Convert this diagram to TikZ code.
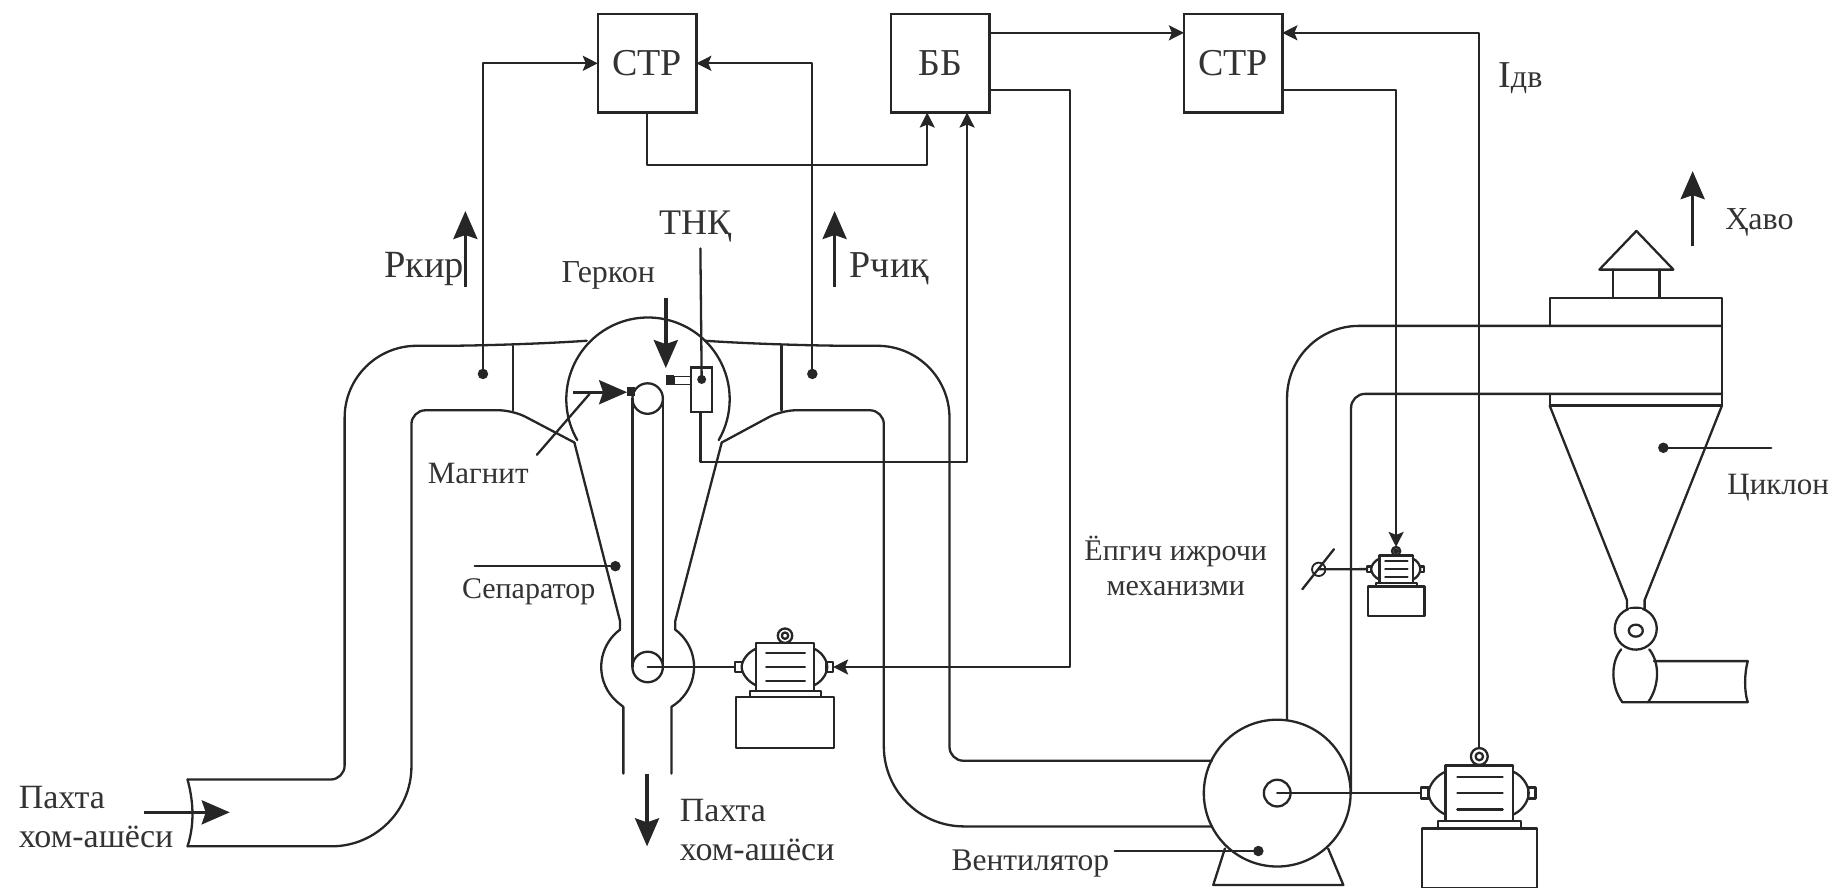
\documentclass[tikz,border=0pt]{standalone}
\usepackage{fontspec}
\setmainfont{Liberation Serif}
\usetikzlibrary{arrows.meta,calc}
\definecolor{ink}{HTML}{262626}
\definecolor{tx}{HTML}{333333}
\tikzset{
  wire/.style={draw=ink,line width=2.3pt,line cap=round,line join=round},
  conn/.style={wire,-{Stealth[length=15pt,width=15pt,inset=3pt]}},
  bigarrow/.style={draw=ink,line width=3.4pt,-{Stealth[length=28pt,width=24pt,inset=4pt]}},
  ctl/.style={draw=ink,line width=2.6pt,minimum width=98.5pt,minimum height=98.5pt,inner sep=0,outer sep=0,text=tx,font=\fontsize{38}{40}\selectfont},
  lbl/.style={inner sep=0,outer sep=0,text=tx,font=\fontsize{31}{38}\selectfont},
  dot/.style={circle,fill=ink,inner sep=0,outer sep=0,minimum size=10.5pt},
  ring/.style={circle,draw=ink,line width=2.3pt,inner sep=0,outer sep=0},
  motor/.pic={
    \draw[wire] (-24.7,-20.2) rectangle (24.7,20.2);
    \draw[wire] (-16,-12)--(17,-12) (-16,0)--(17,0) (-16,12)--(17,12);
    \draw[wire] (-24.7,-15.6) .. controls (-31,-13) and (-37,-6) .. (-37,0) .. controls (-37,6) and (-31,13) .. (-24.7,15.6);
    \draw[wire] (24.7,-15.6) .. controls (31,-13) and (36,-6) .. (36,0) .. controls (36,6) and (31,13) .. (24.7,15.6);
    \draw[wire] (-42.7,-4) rectangle (-37,4);
    \draw[wire] (35.5,-4) rectangle (41,4);
    \draw[wire] (-30,20.2) rectangle (30.5,25.9);
    \draw[wire] (-42,25.9) rectangle (42,69.4);
    \draw[wire] (0,-26.7) circle[radius=7.2pt];
    \draw[wire] (0,-26.7) circle[radius=3.2pt];
    \coordinate (-top) at (0,-32.9);
    \coordinate (-l) at (-42.7,0);
    \coordinate (-r) at (41,0);
  }
}
\begin{document}
\begin{tikzpicture}[x=1.17219pt,y=-1.17219pt]
\useasboundingbox (0,0) rectangle (1568,756.7);

% control boxes
\node[ctl] (s1) at (552,54) {СТР};
\node[ctl] (bb) at (802,54) {ББ};
\node[ctl] (s2) at (1052,54) {СТР};
\coordinate (bbtop) at (844,28);
\coordinate (bbbot) at (844,77);
\coordinate (s2top) at (1094,28);
\coordinate (s2topl) at (1010,28);
\coordinate (s2bot) at (1094,77);
\coordinate (bbin1) at (791,96);
\coordinate (bbin2) at (825,96);
\coordinate (s1turn) at (552,141);

% left duct
\draw[wire,rounded corners=14pt] (160,665) -- (294,665) [rounded corners=72pt] -- (294,295) -- (437,295) [sharp corners] -- (500.5,290.7);
\draw[wire,rounded corners=80pt] (160,722) -- (351,722) [rounded corners=14pt] -- (351,350) -- (437.7,350) [sharp corners] -- (490,377.5);
\draw[wire] (160,665) .. controls (164,680) and (167,700) .. (160,722);
\draw[wire] (437.7,295) -- (437.7,350);

% right duct
\draw[wire,rounded corners=72pt] (601.5,290.7) -- (666.8,295) -- (810,295) [rounded corners=14pt] -- (810,649) -- (1034,649);
\draw[wire,rounded corners=14pt] (615.7,377.5) -- (666.8,350) -- (754,350) [rounded corners=80pt] -- (754,705) -- (1034,705);
\draw[wire] (666.8,295) -- (666.8,350);

% separator
\draw[wire] (490,377.5) -- (529,530) -- (529,537.1) arc[start angle=126.4,end angle=233.6,radius=46.4pt] -- (531.8,603) -- (531.8,660);
\draw[wire] (615.7,377.5) -- (576,530) -- (576,537.1) arc[start angle=53.6,end angle=-53.6,radius=46.4pt] -- (572.8,603) -- (572.8,660);
\draw[wire] (492.45,375.4) arc[start angle=210,end angle=-30,radius=81.7pt];
\node[ring,minimum size=30.5pt] (pu) at (552.5,340) {};
\node[ring,minimum size=30.5pt] (pl) at (552.5,569) {};
\draw[wire] (pu.west) -- (pl.west) (pu.east) -- (pl.east);
\node[fill=ink,inner sep=0,outer sep=0,minimum width=8pt,minimum height=9.5pt] (mag) at (538.5,334) {};

% motors
\pic (m1) at (669.7,569) {motor};
\pic[scale=.575] (m2) at (1191,485.5) {motor};
\pic[scale=1.17] (m3) at (1262,676.6) {motor};
\draw[wire] (pl.center) -- (m1-l);

% sensors and signal lines
\node[dot] (pk) at (412,319) {};
\node[dot] (pc) at (693,319) {};
\draw[conn] (pk.center) |- (s1.west);
\draw[conn] (pc.center) |- (s1.east);
\draw[conn] (s1.south) -- (s1turn) -| (bbin1);
\node[draw=ink,line width=2.1pt,inner sep=0,outer sep=0,minimum width=21.5pt,minimum height=44.5pt] (thk) at (598.5,332.5) {};
\node[dot,minimum size=9pt] (thkd) at (598.6,323.7) {};
\coordinate (thktop) at (597.5,212);
\coordinate (thkcorner) at (597.5,394);
\draw[wire] (thktop) -- (thkd.center);
\draw[conn] (thk.south -| thkcorner) -- (thkcorner) -- (825,394) -- (bbin2);
\draw[conn] (bbtop) -- (s2topl);
\draw[conn] (bbbot) -- (913,77) -- (913,569) -- (m1-r);
\draw[conn] (s2bot) -| (m2-top);
\draw[conn] (m3-top) |- (s2top);

% reed switch
\node[fill=ink,inner sep=0,outer sep=0,minimum width=8.2pt,minimum height=10pt] (gb) at (571.5,324.3) {};
\node[draw=ink,line width=1.6pt,inner sep=0,outer sep=0,minimum width=16.4pt,minimum height=8pt] (gw) at (582,324.5) {};

% big arrows
\coordinate (a1) at (397,245); \coordinate (a1e) at (397,180);
\coordinate (a2) at (712,245); \coordinate (a2e) at (712,180);
\coordinate (a3) at (568,254); \coordinate (a3e) at (568,314);
\coordinate (a4) at (489,334.6); \coordinate (a4e) at (535,334.6);
\coordinate (a5) at (123,693); \coordinate (a5e) at (196,693);
\coordinate (a6) at (552,660); \coordinate (a6e) at (552,722);
\coordinate (a7) at (1444,210); \coordinate (a7e) at (1444,146);
\draw[bigarrow] (a1) -- (a1e);
\draw[bigarrow] (a2) -- (a2e);
\draw[bigarrow] (a3) -- (a3e);
\draw[bigarrow] (a4) -- (a4e);
\draw[bigarrow] (a5) -- (a5e);
\draw[bigarrow] (a6) -- (a6e);
\draw[bigarrow] (a7) -- (a7e);

% leaders
\coordinate (mgA) at (458,388); \coordinate (mgB) at (503,336);
\draw[wire] (mgA) -- (mgB);
\node[dot] (spd) at (525,483) {};
\coordinate (spA) at (405,483);
\draw[wire] (spA) -- (spd.center);
\node[dot] (vnd) at (1073.5,726) {};
\coordinate (vnA) at (951,726);
\draw[wire] (vnA) -- (vnd.center);
\node[dot] (cyd) at (1419,382) {};
\coordinate (cyA) at (1511,382);
\draw[wire] (cyd.center) -- (cyA);

% fan
\node[ring,minimum size=146.8pt] (fan) at (1089.6,676.6) {};
\node[ring,minimum size=26.7pt] (hub) at (1089.6,676.6) {};
\draw[wire] (hub.center) -- (m3-l);
\draw[wire] (1045,723.8) -- (1035,755) -- (1146,755) -- (1133,723.8);
\draw[wire] (1089.6,614) -- (1098,614);
\draw[wire,rounded corners=72pt] (1098,614) -- (1098,278) -- (1469,278);
\draw[wire,rounded corners=14pt] (1152.6,676.6) -- (1152.6,336) -- (1469,336);

% damper
\node[ring,minimum size=13.4pt,line width=1.8pt] (dmp) at (1125,485.7) {};
\coordinate (dmA) at (1111,502.7); \coordinate (dmB) at (1138,468.5);
\draw[wire] (dmA) -- (dmB);
\draw[wire] (dmp.center) -- (m2-l);

% cyclone
\draw[wire] (1322,278) -- (1322,254) -- (1469,254) -- (1469,346) -- (1322,346) -- (1322,336);
\draw[wire] (1376.3,254) -- (1376.3,230) (1415.6,254) -- (1415.6,230);
\draw[wire] (1364.4,230) -- (1396,197) -- (1427.6,230) -- cycle;
\draw[wire] (1322,346) -- (1388,512) -- (1388,520);
\draw[wire] (1469,346) -- (1403,512) -- (1403,520);
\draw[wire] (1388,520) arc[start angle=114.6,end angle=-245,radius=21pt] -- cycle;
\draw[draw=white,line width=3pt] (1390,521) -- (1401,521);
\draw[wire] (1395.5,538) ellipse[x radius=7pt,y radius=6pt];
\draw[wire] (1384,599) .. controls (1374,585) and (1374,565) .. (1383,554);
\draw[wire] (1406,599) .. controls (1416,585) and (1416,565) .. (1407,554);
\draw[wire] (1384,599) -- (1491,599) .. controls (1488,590) and (1488,575) .. (1491,564) -- (1411,564);

% labels
\node[lbl,font=\fontsize{38.5}{40}\selectfont,anchor=base east] (t1) at (396,237) {Ркир};
\node[lbl,font=\fontsize{38}{40}\selectfont,anchor=base west] (t2) at (725,237) {Рчиқ};
\node[lbl,font=\fontsize{36}{40}\selectfont] (t3) at (593,193) {ТНҚ};
\node[lbl,font=\fontsize{32}{38}\selectfont] (t4) at (519,235) {Геркон};
\node[lbl] (t5) at (408,404) {Магнит};
\node[lbl,font=\fontsize{30}{38}\selectfont] (t6) at (451,505) {Сепаратор};
\node[lbl,font=\fontsize{34}{39}\selectfont,align=left,anchor=north west] (t7) at (16,671) {Пахта\\хом-ашёси};
\node[lbl,font=\fontsize{34}{39}\selectfont,align=left,anchor=north west] (t8) at (580,682) {Пахта\\хом-ашёси};
\node[lbl,font=\fontsize{31.5}{38}\selectfont] (t9) at (879,737) {Вентилятор};
\node[lbl,font=\fontsize{30}{34.5}\selectfont,align=center] (t10) at (1003,483) {Ёпгич ижрочи\\механизми};
\node[lbl,font=\fontsize{32}{38}\selectfont] (t11) at (1501,190) {Ҳаво};
\node[lbl,font=\fontsize{31}{38}\selectfont] (t12) at (1517,416) {Циклон};
\node[lbl,font=\fontsize{38}{40}\selectfont] (t13) at (1297,67) {I{\fontsize{32}{30}\selectfont дв}};
\end{tikzpicture}
\end{document}
